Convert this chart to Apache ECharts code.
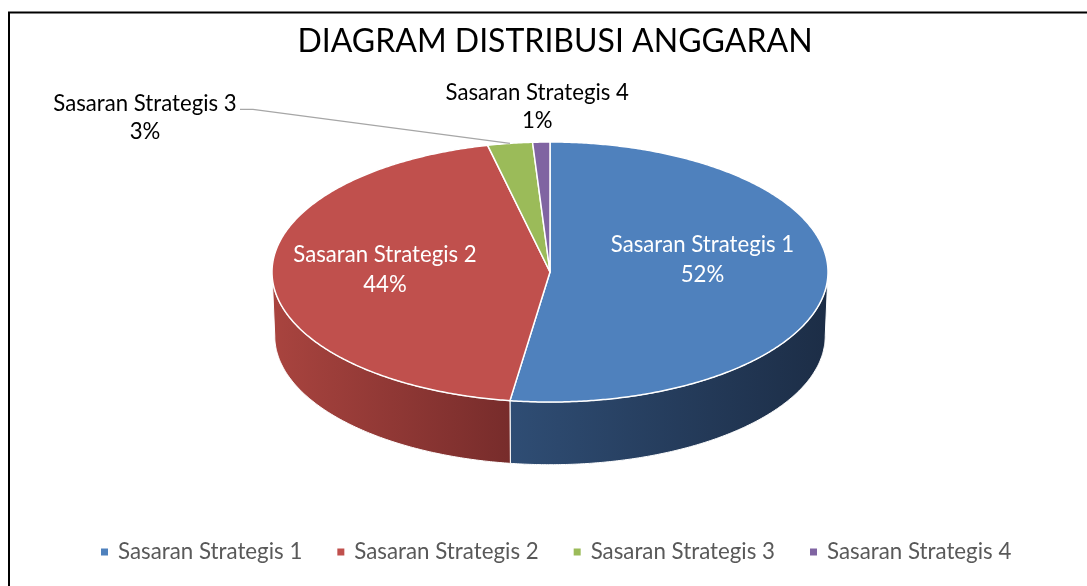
<!DOCTYPE html>
<html><head><meta charset="utf-8">
<script src="https://cdn.jsdelivr.net/npm/echarts@6/dist/echarts.min.js"></script>
<style>html,body{margin:0;padding:0;background:#fff}#c{width:1087px;height:586px}</style>
</head><body><div id="c"></div>
<script>
// ---- data ----
const categories = ['Sasaran Strategis 1', 'Sasaran Strategis 2', 'Sasaran Strategis 3', 'Sasaran Strategis 4'];
const values = [52.3, 44.1, 2.6, 1.0];
const titleText = 'DIAGRAM DISTRIBUSI ANGGARAN';

// ---- styles / layout ----
const topColors = ['#4f81bd', '#c0504d', '#9bbb59', '#8064a2'];
const sideColors = [['#2f4d74', '#1c2d46'], ['#a9443f', '#772c2b'], ['#7d9747', '#5d7034'], ['#67508a', '#4c3b66']];
const FONT = 'Lato, "Noto Sans", sans-serif';
const LABEL_SIZE = 22.2;
const geo = { cx: 550, cy: 272, rx: 278, ry: 130, depth: 64, bottomScale: 0.99 };
const labelCfg = [
  { inside: true, r: 0.55, dy: -17 },
  { inside: true, r: 0.594, dy: -5 },
  { inside: false, dx: -365, dy: -26, elbow: [[-257, -34], [-270, -34]] },
  { inside: false, dx: -4, dy: -35 }
];

const total = values.reduce((a, b) => a + b, 0);
function P(t, bottom) {
  const s = bottom ? geo.bottomScale : 1;
  return [geo.cx + geo.rx * s * Math.sin(t), geo.cy - geo.ry * s * Math.cos(t) + (bottom ? geo.depth : 0)];
}

function renderSlice(params, api) {
  const i = params.seriesIndex;
  const v = api.value(0);
  let start = 0;
  for (let k = 0; k < i; k++) start += values[k];
  const a0 = start / total * Math.PI * 2;
  const a1 = (start + v) / total * Math.PI * 2;
  const step = Math.PI / 360;
  const children = [];
  // side wall (front half only)
  const s0 = Math.max(a0, Math.PI / 2), s1 = Math.min(a1, Math.PI * 1.5);
  if (s1 > s0) {
    const pts = [];
    for (let t = s0; t < s1; t += step) pts.push(P(t, false));
    pts.push(P(s1, false));
    for (let t = s1; t > s0; t -= step) pts.push(P(t, true));
    pts.push(P(s0, true));
    children.push({
      type: 'polygon', z2: 1, shape: { points: pts },
      style: {
        fill: new echarts.graphic.LinearGradient(0, 0, 1, 0, [
          { offset: 0, color: sideColors[i][0] }, { offset: 1, color: sideColors[i][1] }]),
        stroke: '#ffffff', lineWidth: 1
      }
    });
  }
  // top face
  const tp = [[geo.cx, geo.cy]];
  for (let t = a0; t < a1; t += step) tp.push(P(t, false));
  tp.push(P(a1, false));
  children.push({
    type: 'polygon', z2: 10, shape: { points: tp },
    style: { fill: api.visual('color'), stroke: '#ffffff', lineWidth: 1.5, lineJoin: 'round' }
  });
  // label
  const mid = (a0 + a1) / 2;
  const cfg = labelCfg[i];
  const pct = Math.round(v / total * 100) + '%';
  const text = categories[i] + '\n' + pct;
  if (cfg.inside) {
    const x = geo.cx + geo.rx * cfg.r * Math.sin(mid);
    const y = geo.cy - geo.ry * cfg.r * Math.cos(mid) + cfg.dy;
    children.push({
      type: 'text', z2: 20, x: x, y: y,
      style: { text: text, fill: '#ffffff', fontSize: LABEL_SIZE, fontFamily: FONT, align: 'center', verticalAlign: 'middle', lineHeight: 30 }
    });
  } else {
    const rim = P(mid, false);
    if (cfg.elbow) {
      const lp = [rim].concat(cfg.elbow.map(e => [rim[0] + e[0], rim[1] + e[1]]));
      children.push({
        type: 'polyline', z2: 15, shape: { points: lp },
        style: { stroke: '#a6a6a6', lineWidth: 1.3, fill: null }
      });
    }
    children.push({
      type: 'text', z2: 20, x: rim[0] + cfg.dx, y: rim[1] + cfg.dy,
      style: { text: text, fill: '#000000', fontSize: LABEL_SIZE, fontFamily: FONT, align: 'center', verticalAlign: 'middle', lineHeight: 28 }
    });
  }
  return { type: 'group', children: children };
}

const chart = echarts.init(document.getElementById('c'), null, { renderer: 'canvas' });
chart.setOption({
  animation: false,
  backgroundColor: '#ffffff',
  title: {
    text: titleText, left: 550, top: 21, textAlign: 'center',
    textStyle: { fontFamily: FONT, fontSize: 32, fontWeight: 'normal', color: '#000000' }
  },
  legend: {
    data: categories, left: 96, top: 534, icon: 'rect', itemWidth: 7, itemHeight: 7, itemGap: 35,
    selectedMode: false,
    textStyle: { color: '#595959', fontSize: 22.3, fontFamily: FONT, padding: [0, 0, 0, 5], lineHeight: 26 }
  },
  graphic: [{
    type: 'rect', silent: true, z: -1,
    shape: { x: 9, y: 12.5, width: 1200, height: 700 },
    style: { fill: null, stroke: '#000000', lineWidth: 2 }
  }],
  series: categories.map((name, i) => ({
    type: 'custom', name: name, coordinateSystem: 'none',
    itemStyle: { color: topColors[i] },
    data: [values[i]],
    renderItem: renderSlice
  }))
});
</script>
</body></html>
